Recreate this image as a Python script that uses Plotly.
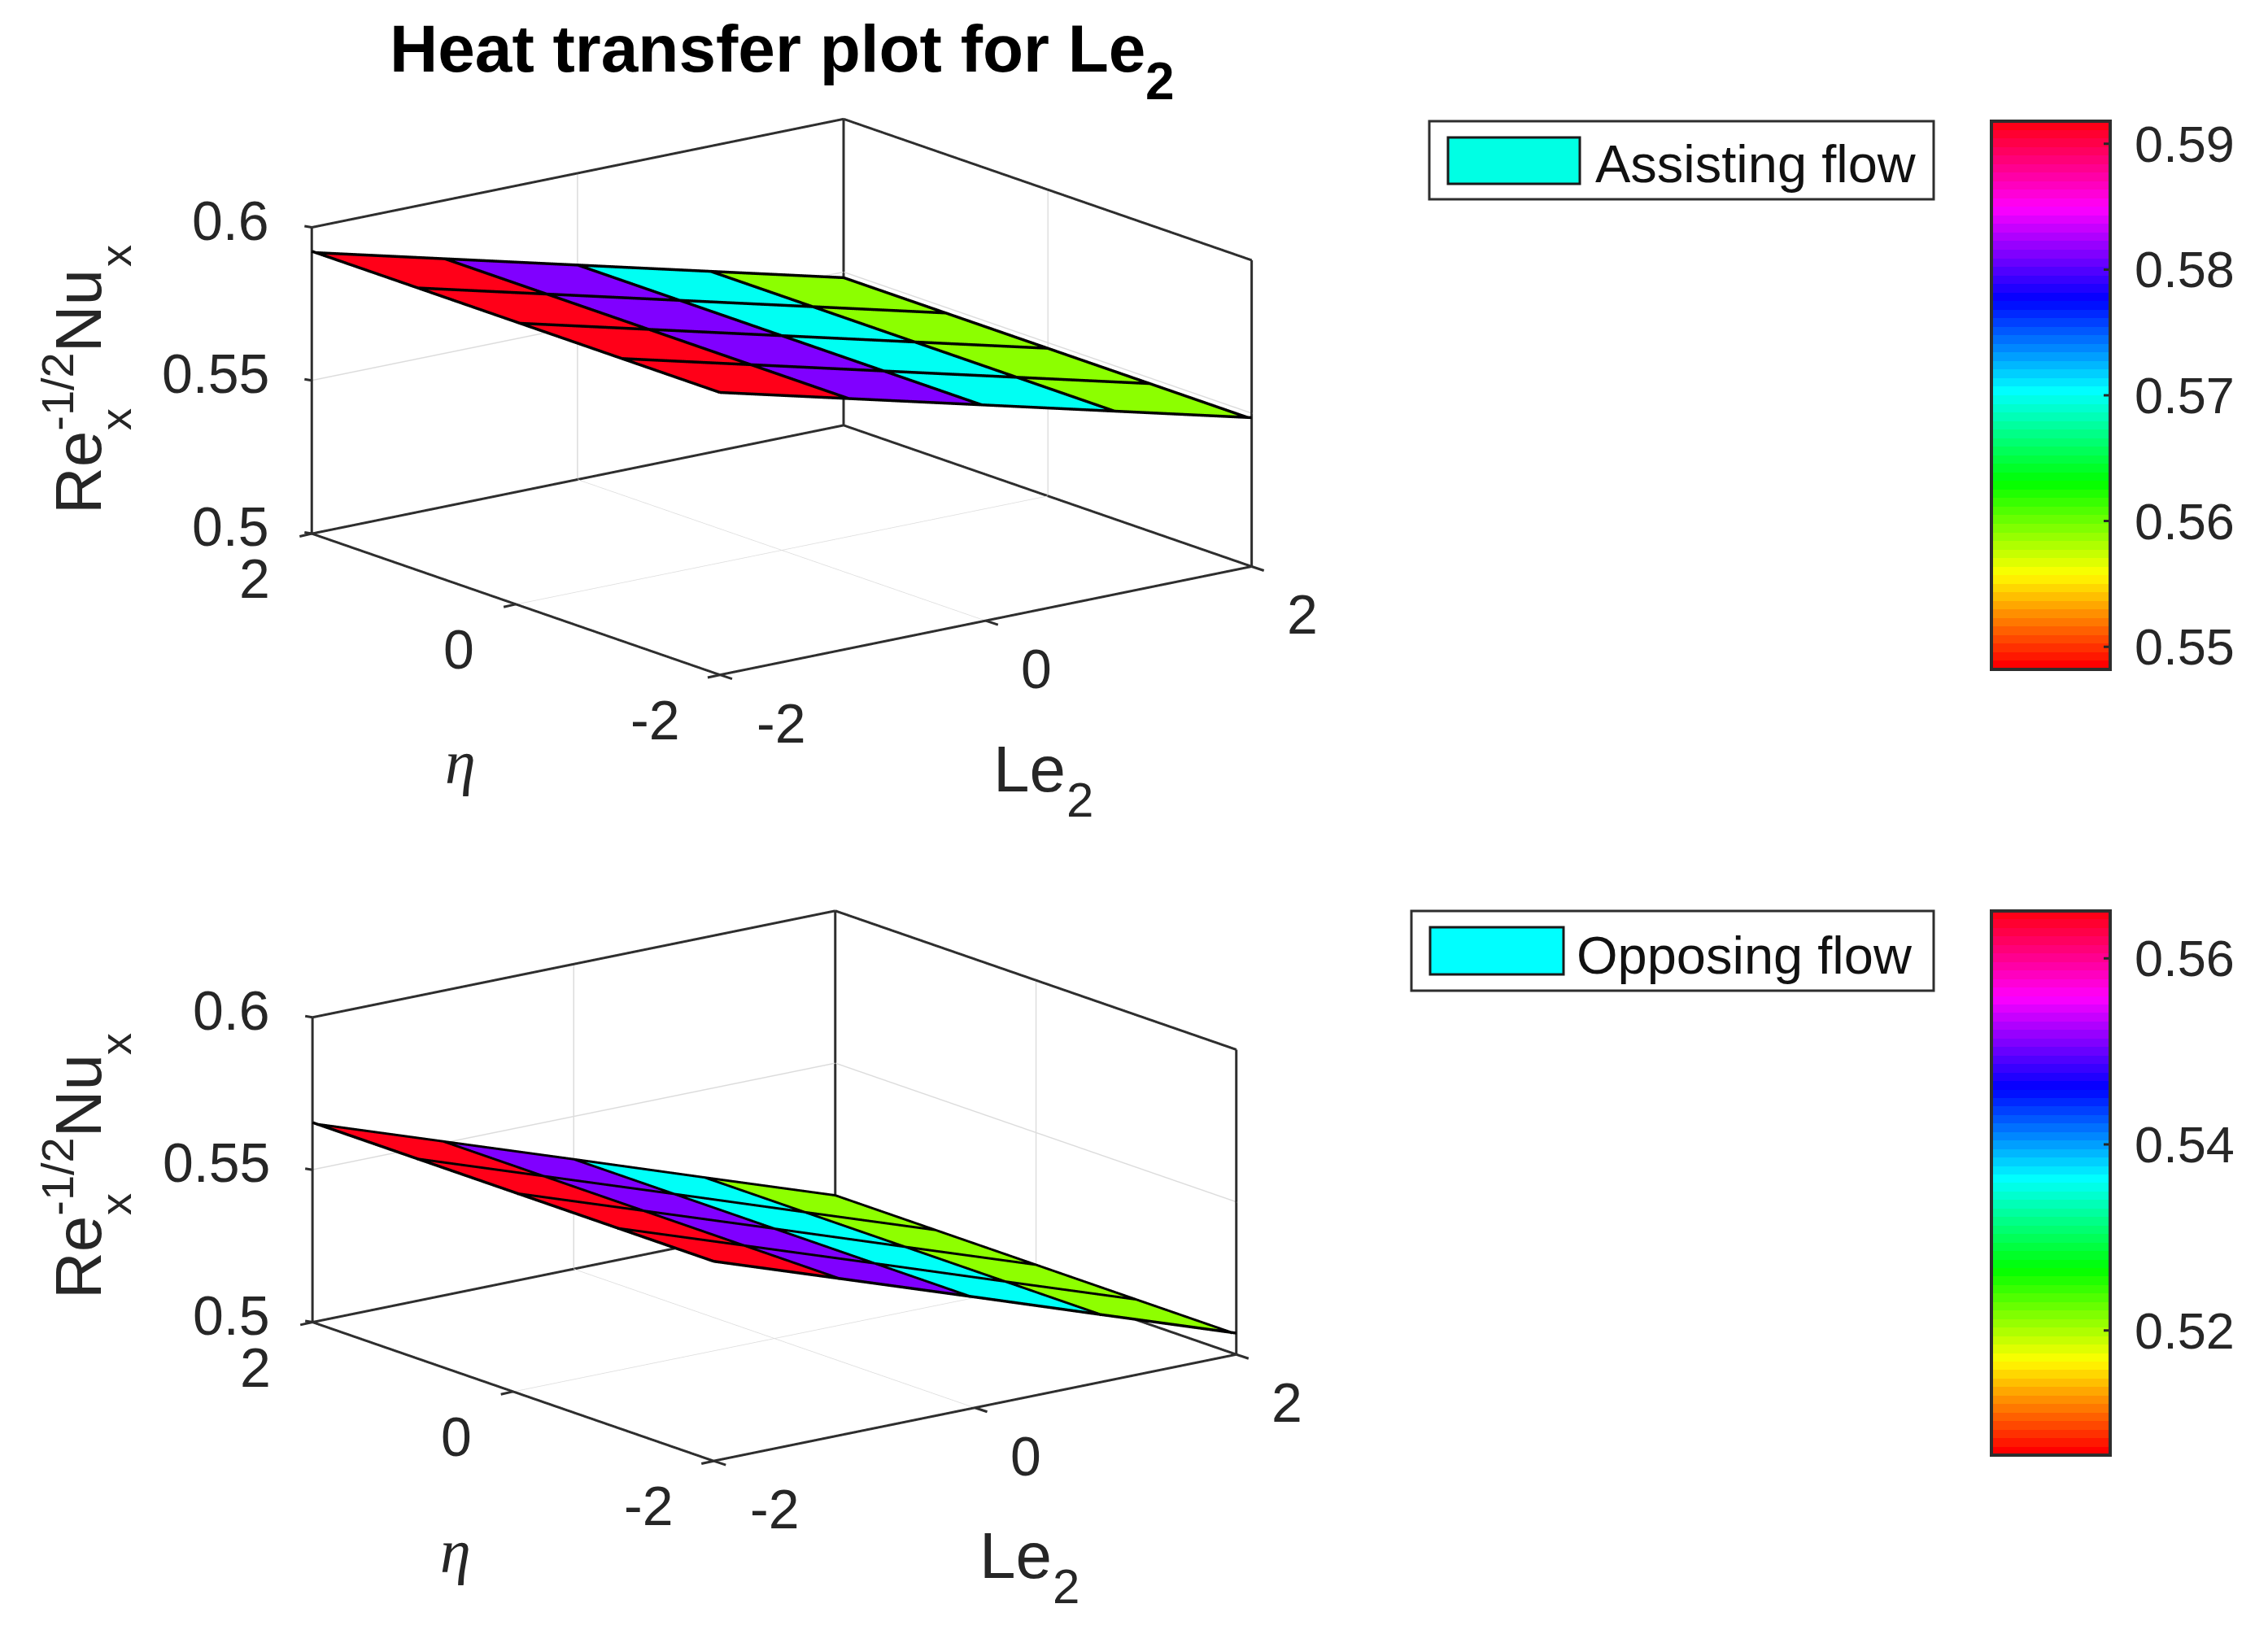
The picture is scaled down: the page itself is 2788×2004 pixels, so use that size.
import colorsys
import math

import plotly.graph_objects as go

WIDTH = 2788
HEIGHT = 2004

le2 = [-2, -1, 0, 1, 2]
eta = [-2, -1, 0, 1, 2]

# Nusselt number along Le2, same for every eta
nu_assisting = [0.5918, 0.5809, 0.5700, 0.5591, 0.5482]
nu_opposing = [0.5651, 0.5505, 0.5359, 0.5212, 0.5066]

z_ticks = [0.5, 0.55, 0.6]
z_labels = ['0.5', '0.55', '0.6']
xy_ticks = [-2, 0, 2]
xy_labels = ['-2', '0', '2']
cbar_ticks_assisting = [0.55, 0.56, 0.57, 0.58, 0.59]
cbar_ticks_opposing = [0.52, 0.54, 0.56]

INK = '#262626'
EDGE = '#2e2e2e'
GRID = '#dcdcdc'
SANS = 'Liberation Sans'
TICK_SIZE = 68

# same viewing angle as matlab's default azimuth
AZIMUTH = math.radians(232.5)
ELEVATION = math.radians(15.4)
EYE_DIST = 2.0
EYE_DIR = (math.cos(ELEVATION) * math.cos(AZIMUTH), math.cos(ELEVATION) * math.sin(AZIMUTH), math.sin(ELEVATION))
EDGE_LIFT = 0.0004  # keeps outer cell edges from z-fighting with the mesh
EDGE_TOWARD_EYE = 0.015  # inner edges move towards the camera, same spot on screen
RANGE_PAD = 0.0005  # lines sitting exactly on the range get clipped


def hsv_scale(levels=64):
    scale = []
    for k in range(levels):
        r, g, b = colorsys.hsv_to_rgb(k / levels, 1, 1)
        color = f'rgb({round(r * 255)},{round(g * 255)},{round(b * 255)})'
        scale.append([k / levels, color])
        scale.append([(k + 1) / levels, color])
    return scale


def px_x(x):
    return x / WIDTH


def px_y(y):
    return 1 - y / HEIGHT


def surface_traces(values, scene, cbar_top, cbar_len, cbar_ticks, z_ratio):
    xs, ys, zs = [], [], []
    for x, z in zip(le2, values):
        for y in eta:
            xs.append(x)
            ys.append(y)
            zs.append(z)
    n = len(eta)
    tri_i, tri_j, tri_k, cell_color = [], [], [], []
    for a in range(len(le2) - 1):
        for b in range(n - 1):
            p = a * n + b
            tri_i += [p, p]
            tri_j += [p + n, p + n + 1]
            tri_k += [p + n + 1, p + 1]
            # faceted shading takes the colour of the first corner
            cell_color += [values[a], values[a]]
    mesh = go.Mesh3d(
        x=xs, y=ys, z=zs, i=tri_i, j=tri_j, k=tri_k,
        intensity=cell_color, intensitymode='cell',
        colorscale=hsv_scale(), cmin=min(values), cmax=max(values),
        flatshading=True,
        lighting=dict(ambient=1, diffuse=0, specular=0, fresnel=0, roughness=1),
        hoverinfo='skip', scene=scene,
        colorbar=dict(
            x=px_x(2448), xanchor='left', xpad=0,
            y=px_y(cbar_top), yanchor='top', ypad=0,
            thicknessmode='pixels', thickness=146,
            lenmode='pixels', len=cbar_len,
            # invisible outside ticks only push the labels away from the bar
            tickvals=cbar_ticks, ticks='outside', ticklen=16, tickcolor='rgba(0,0,0,0)',
            tickformat='.2f',
            tickfont=dict(size=63, color=INK, family=SANS),
            outlinecolor=EDGE, outlinewidth=4, borderwidth=0,
        ),
    )
    # cell edges: the mesh is seen at a grazing angle so a plain lift hides the inner ones
    span_xy = xy_ticks[-1] - xy_ticks[0]
    span_z = z_ticks[-1] - z_ticks[0]
    shift_x = EYE_DIR[0] * EDGE_TOWARD_EYE * span_xy
    shift_y = EYE_DIR[1] * EDGE_TOWARD_EYE * span_xy
    shift_z = EYE_DIR[2] * EDGE_TOWARD_EYE * span_z / z_ratio
    lx, ly, lz = [], [], []
    for a, (x, z) in enumerate(zip(le2, values)):
        if a == 0:
            lx += [x, x, None]
            ly += [eta[0], eta[-1], None]
            lz += [z + EDGE_LIFT, z + EDGE_LIFT, None]
        else:
            lx += [x + shift_x, x + shift_x, None]
            ly += [eta[0] + shift_y, eta[-1] + shift_y, None]
            lz += [z + shift_z, z + shift_z, None]
    for b, y in enumerate(eta):
        if b == 0:
            lx += le2 + [None]
            ly += [y] * len(le2) + [None]
            lz += [z + EDGE_LIFT for z in values] + [None]
        else:
            lx += [x + shift_x for x in le2] + [None]
            ly += [y + shift_y] * len(le2) + [None]
            lz += [z + shift_z for z in values] + [None]
    edges = go.Scatter3d(x=lx, y=ly, z=lz, mode='lines', line=dict(color='black', width=7),
                         hoverinfo='skip', showlegend=False, scene=scene)
    return [mesh, edges]


def box_trace(scene):
    x0, x1 = xy_ticks[0], xy_ticks[-1]
    y0, y1 = xy_ticks[0], xy_ticks[-1]
    z0, z1 = z_ticks[0], z_ticks[-1]
    segments = [
        ((x0, y0, z0), (x1, y0, z0)), ((x1, y0, z0), (x1, y1, z0)),
        ((x1, y1, z0), (x0, y1, z0)), ((x0, y1, z0), (x0, y0, z0)),
        ((x0, y1, z0), (x0, y1, z1)), ((x1, y1, z0), (x1, y1, z1)),
        ((x1, y0, z0), (x1, y0, z1)),
        ((x0, y1, z1), (x1, y1, z1)), ((x1, y1, z1), (x1, y0, z1)),
    ]
    lx, ly, lz = [], [], []
    for a, b in segments:
        lx += [a[0], b[0], None]
        ly += [a[1], b[1], None]
        lz += [a[2], b[2], None]
    return go.Scatter3d(x=lx, y=ly, z=lz, mode='lines', line=dict(color=EDGE, width=6),
                        hoverinfo='skip', showlegend=False, scene=scene)


def tick_note(x, y, z, text, dx, dy, anchor='center'):
    return dict(x=x, y=y, z=z, text=text, showarrow=False, xanchor=anchor, yanchor='middle',
                xshift=dx, yshift=dy, font=dict(size=TICK_SIZE, color=INK, family=SANS))


def tick_stub(x, y, z, ax, ay):
    return dict(x=x, y=y, z=z, text=' ', showarrow=True, arrowhead=0, arrowwidth=3,
                arrowcolor=EDGE, ax=ax, ay=ay, standoff=0, startstandoff=0)


def tick_notes():
    xmin, xmax = xy_ticks[0], xy_ticks[-1]
    notes = []
    for val, label in zip(z_ticks, z_labels):
        notes.append(tick_note(xmin, xmax, val, label, -50, 9, 'right'))
        notes.append(tick_stub(xmin, xmax, val, -12, -2))
    for val, label in zip(xy_ticks, xy_labels):
        # eta labels on the front left edge, Le2 on the front right edge
        eta_dx = -80 if label == '-2' else -70
        le_dx = 75 if label == '-2' else 62
        notes.append(tick_note(xmin, val, z_ticks[0], label, eta_dx, -55))
        notes.append(tick_note(val, xmin, z_ticks[0], label, le_dx, -59))
        notes.append(tick_stub(xmin, val, z_ticks[0], -18, 4))
        notes.append(tick_stub(val, xmin, z_ticks[0], 18, 6))
    return notes


def scene_layout(cx, cy, box_scale, z_ratio):
    axis = dict(
        showbackground=False, showgrid=True, gridcolor=GRID, gridwidth=3,
        zeroline=False, showline=False, showspikes=False, showticklabels=False,
        ticks='', title=dict(text=''),
    )
    xy_range = [xy_ticks[0] - RANGE_PAD * 4, xy_ticks[-1] + RANGE_PAD * 4]
    z_range = [z_ticks[0] - RANGE_PAD * 0.1, z_ticks[-1] + RANGE_PAD * 0.1]
    return dict(
        domain=dict(x=[px_x(cx - 880), px_x(cx + 880)], y=[px_y(cy + 470), px_y(cy - 470)]),
        aspectmode='manual',
        # orthographic camera ignores eye distance, so the box itself sets the size
        aspectratio=dict(x=box_scale, y=box_scale, z=z_ratio * box_scale),
        camera=dict(
            projection=dict(type='orthographic'),
            center=dict(x=0, y=0, z=0), up=dict(x=0, y=0, z=1),
            eye=dict(x=EYE_DIST * EYE_DIR[0], y=EYE_DIST * EYE_DIR[1], z=EYE_DIST * EYE_DIR[2]),
        ),
        # only the inner ticks get grid lines, the outer ones sit on the box edges
        xaxis=dict(axis, range=xy_range, tickvals=xy_ticks[1:-1]),
        yaxis=dict(axis, range=xy_range, tickvals=xy_ticks[1:-1]),
        zaxis=dict(axis, range=z_range, tickvals=z_ticks[1:-1]),
        annotations=tick_notes(),
    )


def note(text, x, y, size, angle=0, anchor='center', family=SANS, color=INK):
    return dict(text=text, x=px_x(x), y=px_y(y), xref='paper', yref='paper', showarrow=False,
                xanchor=anchor, yanchor='middle', textangle=angle,
                font=dict(size=size, color=color, family=family))


def rect(x0, y0, x1, y1, fill, line, width):
    return dict(type='rect', xref='paper', yref='paper', x0=px_x(x0), x1=px_x(x1),
                y0=px_y(y0), y1=px_y(y1), fillcolor=fill, line=dict(color=line, width=width))


def cbar_stubs(values, top, length, ticks):
    # short inner tick marks on the right side of the colour bar
    stubs = []
    for val in ticks:
        y = top + (max(values) - val) / (max(values) - min(values)) * length
        stubs.append(dict(x=px_x(2592), y=px_y(y), xref='paper', yref='paper', text=' ',
                          showarrow=True, arrowhead=0, arrowwidth=3, arrowcolor=INK,
                          axref='pixel', ayref='pixel', ax=-9, ay=0,
                          standoff=0, startstandoff=0))
    return stubs


Z_RATIO_TOP = 0.474
Z_RATIO_BOTTOM = 0.48

fig = go.Figure()
fig.add_traces(surface_traces(nu_assisting, 'scene', 149, 674, cbar_ticks_assisting, Z_RATIO_TOP))
fig.add_trace(box_trace('scene'))
fig.add_traces(surface_traces(nu_opposing, 'scene2', 1120, 669, cbar_ticks_opposing, Z_RATIO_BOTTOM))
fig.add_trace(box_trace('scene2'))

annotations = [
    note('<b>Heat transfer plot for Le</b>', 943, 59, 82, color='black'),
    note('<b>2</b>', 1426, 100, 64, color='black'),
    # top panel axis names
    note('Re<sup>-1/2</sup>Nu', 90, 482, 80, angle=-90),
    note('x', 142, 516, 54, angle=-90),
    note('x', 142, 315, 54, angle=-90),
    note('Le', 1265, 945, 80),
    note('2', 1327, 983, 60),
    note('<i>η</i>', 566, 937, 76, family='Liberation Serif'),
    # bottom panel axis names
    note('Re<sup>-1/2</sup>Nu', 90, 1447, 80, angle=-90),
    note('x', 142, 1481, 54, angle=-90),
    note('x', 142, 1284, 54, angle=-90),
    note('Le', 1248, 1912, 80),
    note('2', 1310, 1950, 60),
    note('<i>η</i>', 560, 1907, 76, family='Liberation Serif'),
    # legends
    note('Assisting flow', 1959, 201, 65, anchor='left', color='#111111'),
    note('Opposing flow', 1936, 1174, 65, anchor='left', color='#111111'),
]
annotations += cbar_stubs(nu_assisting, 149, 674, cbar_ticks_assisting)
annotations += cbar_stubs(nu_opposing, 1120, 669, cbar_ticks_opposing)
shapes = [
    rect(1757, 149, 2377, 245, 'white', EDGE, 3),
    rect(1780, 169, 1942, 226, '#00ffe4', '#1a1a1a', 3),
    rect(1735, 1120, 2377, 1218, 'white', EDGE, 3),
    rect(1758, 1140, 1922, 1198, '#00ffff', '#1a1a1a', 3),
]

fig.update_layout(
    width=WIDTH, height=HEIGHT, margin=dict(l=0, r=0, t=0, b=0),
    paper_bgcolor='white', showlegend=False,
    font=dict(family=SANS, color=INK),
    scene=scene_layout(961, 488, 1.755, Z_RATIO_TOP),
    scene2=scene_layout(952, 1458, 1.725, Z_RATIO_BOTTOM),
    annotations=annotations, shapes=shapes,
)

fig.write_html("out.html", config={'displayModeBar': False},
               post_script="document.body.style.margin='0';")
